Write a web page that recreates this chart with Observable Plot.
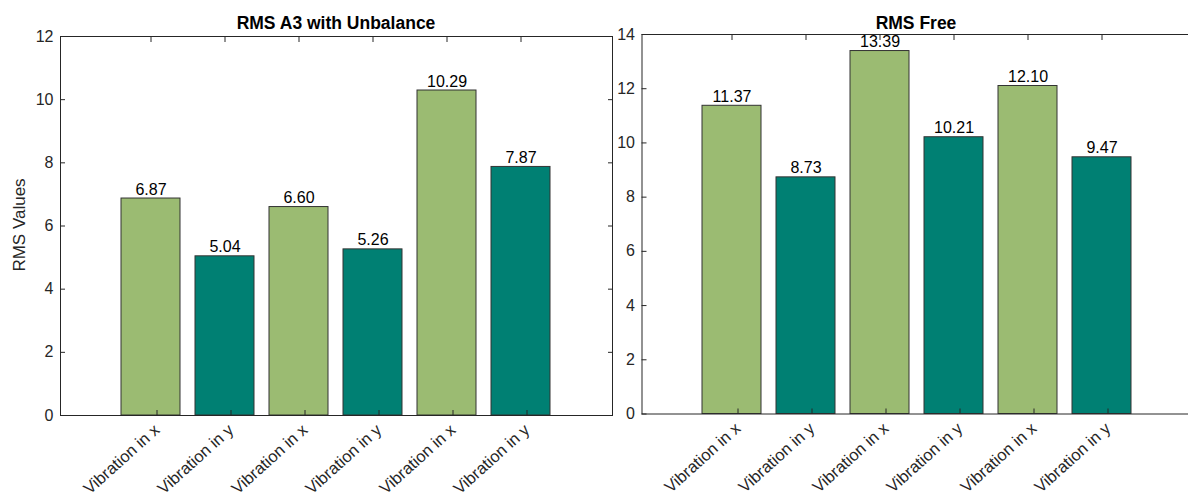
<!DOCTYPE html>
<html>
<head>
<meta charset="utf-8">
<script src="https://cdn.jsdelivr.net/npm/d3@7"></script>
<script src="https://cdn.jsdelivr.net/npm/@observablehq/plot@0.6"></script>
<style>
  html, body { margin: 0; padding: 0; background: #fff; overflow: hidden; }
  #wrap { position: relative; width: 1188px; height: 497px; overflow: hidden; font-family: "Liberation Sans", Arial, sans-serif; }
  .panel { position: absolute; top: 0; }
  .title { position: absolute; font-weight: bold; font-size: 17.5px; line-height: 1; color: #000; transform: translateX(-50%); white-space: nowrap; }
  .ylabel { position: absolute; font-size: 17px; line-height: 1; color: #262626; transform: translate(-50%, -50%) rotate(-90deg); white-space: nowrap; }
</style>
</head>
<body>
<div id="wrap"></div>
<script>
// ---- data ----
const categories = ["Vibration in x", "Vibration in y", "Vibration in x", "Vibration in y", "Vibration in x", "Vibration in y"];
const axisGroup = ["x", "y", "x", "y", "x", "y"];
const unbalanceValues = [6.87, 5.04, 6.60, 5.26, 10.29, 7.87];
const freeValues = [11.37, 8.73, 13.39, 10.21, 12.10, 9.47];
const titles = ["RMS A3 with Unbalance", "RMS Free"];
const yTicksLeft = [0, 2, 4, 6, 8, 10, 12];
const yTicksRight = [0, 2, 4, 6, 8, 10, 12, 14];
const yLabel = "RMS Values";

const colors = {x: "#9bbb72", y: "#008073"};
const axisColor = "#262626";

function makePanel(values, yMax, yTicks, opts) {
  const data = values.map((v, i) => ({i, v, g: axisGroup[i], label: v.toFixed(2)}));
  const idx = d3.range(categories.length);
  const fmt = i => categories[i];
  return Plot.plot({
    width: opts.width,
    height: 497,
    marginLeft: opts.marginLeft,
    marginRight: opts.marginRight,
    marginTop: opts.marginTop,
    marginBottom: opts.marginBottom,
    style: {fontFamily: '"Liberation Sans", Arial, sans-serif', fontSize: "16px", color: axisColor, background: "transparent", overflow: "visible"},
    x: {type: "band", domain: idx, paddingInner: 0.2, paddingOuter: 0.8, axis: null},
    y: {domain: [0, yMax], axis: null},
    marks: [
      Plot.barY(data, {x: "i", y: "v", fill: d => colors[d.g], stroke: "#333", strokeWidth: 1, inset: 0}),
      Plot.text(data, {x: "i", y: "v", text: "label", dy: -4, lineAnchor: "bottom", fontSize: 16, fill: "#000"}),
      Plot.frame({stroke: axisColor, strokeWidth: 1}),
      Plot.axisY({ticks: yTicks, label: null, tickSize: -5, tickPadding: 12, stroke: axisColor, fill: axisColor, fontSize: 16}),
      Plot.axisY({anchor: "right", ticks: yTicks, label: null, tickSize: -5, tickFormat: () => "", stroke: axisColor}),
      Plot.axisX({ticks: idx, label: null, tickSize: -5, tickPadding: 17, dx: 6, tickRotate: -42, tickFormat: fmt, stroke: axisColor, fill: axisColor, fontSize: 16.5}),
      Plot.axisX({anchor: "top", ticks: idx, label: null, tickSize: -5, tickFormat: () => "", stroke: axisColor})
    ]
  });
}

const wrap = document.getElementById("wrap");

const left = makePanel(unbalanceValues, 12, yTicksLeft, {width: 625, marginLeft: 60, marginRight: 13, marginTop: 36, marginBottom: 82});
left.classList.add("panel");
left.style.left = "0px";
wrap.appendChild(left);

const right = makePanel(freeValues, 14, yTicksRight, {width: 600, marginLeft: 41.5, marginRight: 8, marginTop: 34, marginBottom: 83.5});
right.classList.add("panel");
right.style.left = "600px";
wrap.appendChild(right);

const t1 = document.createElement("div");
t1.className = "title"; t1.textContent = titles[0];
t1.style.left = "336px"; t1.style.top = "15px";
wrap.appendChild(t1);

const t2 = document.createElement("div");
t2.className = "title"; t2.textContent = titles[1];
t2.style.left = "916px"; t2.style.top = "14.5px";
wrap.appendChild(t2);

const yl = document.createElement("div");
yl.className = "ylabel"; yl.textContent = yLabel;
yl.style.left = "19px"; yl.style.top = "225px";
wrap.appendChild(yl);
</script>
</body>
</html>
